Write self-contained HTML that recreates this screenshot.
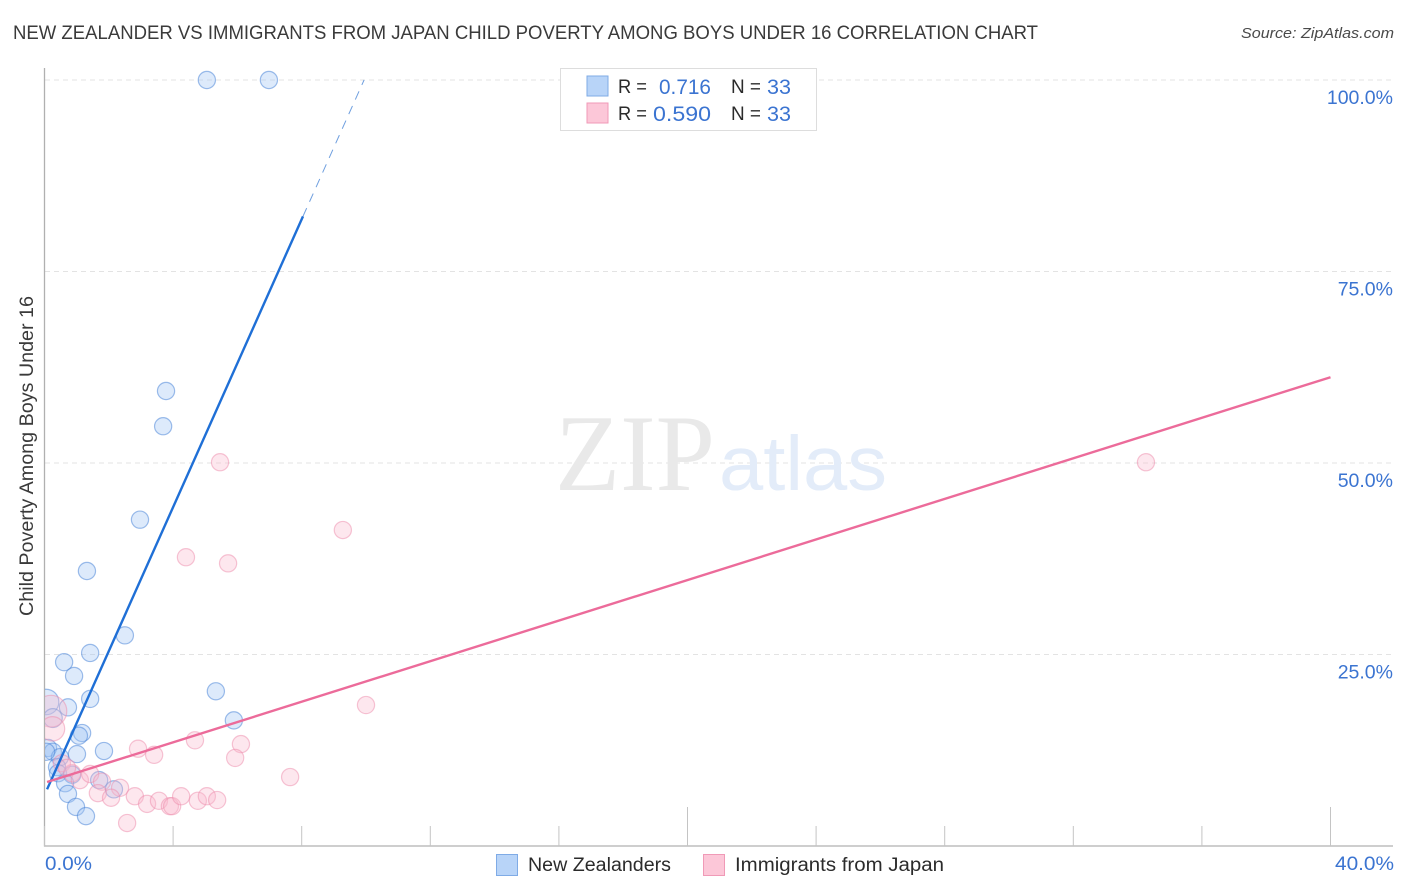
<!DOCTYPE html>
<html lang="en">
<head>
<meta charset="utf-8">
<title>New Zealander vs Immigrants from Japan Child Poverty Among Boys Under 16 Correlation Chart</title>
<style>
html,body{margin:0;padding:0;background:#fff;}
svg{display:block;font-family:"Liberation Sans",sans-serif;}
</style>
</head>
<body>
<svg id="chart" width="1406" height="892" viewBox="0 0 1406 892" xmlns="http://www.w3.org/2000/svg">
  <defs>
    <clipPath id="plot-clip"><rect x="45" y="60" width="1350" height="786"></rect></clipPath>
  </defs>
  <rect x="0" y="0" width="1406" height="892" fill="#ffffff"></rect>

  <text x="13" y="39" font-size="19" fill="#3a3a3a" textLength="1025" lengthAdjust="spacingAndGlyphs">NEW ZEALANDER VS IMMIGRANTS FROM JAPAN CHILD POVERTY AMONG BOYS UNDER 16 CORRELATION CHART</text>
  <text x="1241" y="38" font-size="15" font-style="italic" fill="#4a4a4a" textLength="153" lengthAdjust="spacingAndGlyphs">Source: ZipAtlas.com</text>

  <g id="grid"></g>

  <g>
    <text x="555" y="490" font-family="'Liberation Serif',serif" font-size="109" fill="#e9e9e9" textLength="160" lengthAdjust="spacingAndGlyphs">ZIP</text>
    <text x="719" y="490" font-size="77" fill="#e3ecf9" textLength="168" lengthAdjust="spacingAndGlyphs">atlas</text>
  </g>

  <g id="axes"></g>
  <g id="points-blue" clip-path="url(#plot-clip)"></g>
  <g id="points-pink" clip-path="url(#plot-clip)"></g>
  <g id="trends"></g>
  <g id="y-labels"></g>

  <text transform="translate(33,616) rotate(-90)" x="0" y="0" font-size="19" fill="#3a3a3a" textLength="320" lengthAdjust="spacingAndGlyphs">Child Poverty Among Boys Under 16</text>
  <text x="45" y="870" font-size="19" fill="#3b74d1" textLength="47" lengthAdjust="spacingAndGlyphs">0.0%</text>
  <text x="1335" y="870" font-size="19" fill="#3b74d1" textLength="59" lengthAdjust="spacingAndGlyphs">40.0%</text>

  <g>
    <rect x="560.5" y="68.5" width="256" height="62" fill="#ffffff" stroke="#dddddd" stroke-width="1"></rect>
    <rect x="587" y="76" width="21" height="20" fill="#b8d4f8" stroke="#7fabe6" stroke-width="1"></rect>
    <rect x="587" y="103" width="21" height="20" fill="#fcc7d8" stroke="#f09ab7" stroke-width="1"></rect>
    <text x="618" y="93" font-size="19" fill="#2b2b2b" textLength="29" lengthAdjust="spacingAndGlyphs">R =</text>
    <text x="659" y="94" font-size="21" fill="#3b74d1" textLength="52" lengthAdjust="spacingAndGlyphs">0.716</text>
    <text x="731" y="93" font-size="19" fill="#2b2b2b" textLength="30" lengthAdjust="spacingAndGlyphs">N =</text>
    <text x="767" y="94" font-size="21" fill="#3b74d1" textLength="24" lengthAdjust="spacingAndGlyphs">33</text>
    <text x="618" y="120" font-size="19" fill="#2b2b2b" textLength="29" lengthAdjust="spacingAndGlyphs">R =</text>
    <text x="653" y="121" font-size="21" fill="#3b74d1" textLength="58" lengthAdjust="spacingAndGlyphs">0.590</text>
    <text x="731" y="120" font-size="19" fill="#2b2b2b" textLength="30" lengthAdjust="spacingAndGlyphs">N =</text>
    <text x="767" y="121" font-size="21" fill="#3b74d1" textLength="24" lengthAdjust="spacingAndGlyphs">33</text>
  </g>

  <g>
    <g>
      <rect x="496.5" y="854.5" width="21" height="21" fill="#b8d4f8" stroke="#7fabe6" stroke-width="1"></rect>
      <text x="528" y="871" font-size="19" fill="#2b2b2b" textLength="143" lengthAdjust="spacingAndGlyphs">New Zealanders</text>
    </g>
    <g>
      <rect x="703.5" y="854.5" width="21" height="21" fill="#fcc7d8" stroke="#f09ab7" stroke-width="1"></rect>
      <text x="735" y="871" font-size="19" fill="#2b2b2b" textLength="209" lengthAdjust="spacingAndGlyphs">Immigrants from Japan</text>
    </g>
  </g>
</svg>

<script>
const xTicks = [0, 4, 8, 12, 16, 20, 24, 28, 32, 36, 40];
const xTallTicks = [20, 40];
const yTicks = [25, 50, 75, 100];
const yTickLabels = ["25.0%", "50.0%", "75.0%", "100.0%"];

const blueX = [5.05, 6.98, 3.78, 3.69, 2.97, 1.32, 2.50, 1.42, 0.61, 0.92, 1.42, 0.73, 5.33, 5.89, 0.05, 0.26, 1.17, 1.07, 1.01, 1.85, 0.11, 0.26, 0.48, 0.39, 0.42, 0.86, 0.64, 0.73, 0.98, 1.29, 1.70, 2.16, 0.05];
const blueY = [100, 100, 59.4, 54.8, 42.6, 35.9, 27.5, 25.2, 24.0, 22.2, 19.2, 18.1, 20.2, 16.4, 18.8, 16.7, 14.75, 14.4, 12.0, 12.4, 12.8, 12.3, 11.6, 10.3, 9.5, 9.3, 8.2, 6.8, 5.1, 3.9, 8.6, 7.4, 12.3];
const blueWeight = [1, 1, 1, 1, 1, 1, 1, 1, 1, 1, 1, 1, 1, 1, 2.2, 1.2, 1, 1, 1, 1, 1, 1, 1, 1, 1, 1, 1, 1, 1, 1, 1, 1, 1];

const pinkX = [5.46, 34.26, 9.28, 4.40, 5.71, 10.0, 2.91, 3.41, 4.68, 6.11, 5.93, 7.64, 0.54, 0.86, 1.10, 1.42, 1.79, 1.66, 2.35, 2.07, 2.81, 3.19, 3.56, 3.90, 3.97, 4.25, 4.77, 5.05, 5.37, 2.57, 0.70, 0.20, 0.25];
const pinkY = [50.1, 50.1, 41.25, 37.7, 36.9, 18.4, 12.7, 11.9, 13.8, 13.3, 11.5, 9.0, 10.8, 9.5, 8.6, 9.4, 8.4, 6.9, 7.6, 6.3, 6.5, 5.5, 5.9, 5.2, 5.2, 6.5, 5.9, 6.5, 6.0, 3.0, 10.2, 17.6, 15.3];
const pinkWeight = [1, 1, 1, 1, 1, 1, 1, 1, 1, 1, 1, 1, 1, 1, 1, 1, 1, 1, 1, 1, 1, 1, 1, 1, 1, 1, 1, 1, 1, 1, 1, 3.4, 2];

const blueTrendX = [0.08, 8.04];
const blueTrendY = [7.4, 82.2];
const blueDashX = [8.04, 9.94];
const blueDashY = [82.2, 100];
const pinkTrendX = [0.08, 40];
const pinkTrendY = [8.35, 61.2];

const NS = 'http://www.w3.org/2000/svg';
const xScale = function (v) { return 44.5 + v * (1286 / 40); };
const yScale = function (v) { return 846 - v * (766 / 100); };

function make(tag, parentId, attrs) {
  const el = document.createElementNS(NS, tag);
  Object.keys(attrs).forEach(function (k) { el.setAttribute(k, attrs[k]); });
  document.getElementById(parentId).appendChild(el);
  return el;
}

yTicks.forEach(function (t, i) {
  const line = make('line', 'grid', { x1: 45, x2: 1393, y1: yScale(t), y2: yScale(t), stroke: '#e3e3e3', 'stroke-width': 1, 'stroke-dasharray': '5 4' });
  
  
  const label = make('text', 'y-labels', { x: 1393, y: yScale(t) + 24, 'text-anchor': 'end', 'font-size': 19.5, fill: '#3b74d1' });
  label.textContent = yTickLabels[i];
  
  
});

const yAxisLine = make('line', 'axes', { x1: 44.5, x2: 44.5, y1: 68, y2: 846.5, stroke: '#b0b0b0', 'stroke-width': 1.3 });


const xAxisLine = make('line', 'axes', { x1: 44, x2: 1393, y1: 846, y2: 846, stroke: '#b0b0b0', 'stroke-width': 1.3 });



xTicks.forEach(function (t) {
  const top = xTallTicks.indexOf(t) >= 0 ? 807 : 826;
  const tick = make('line', 'axes', { x1: xScale(t), x2: xScale(t), y1: top, y2: 846, stroke: '#c4c4c4', 'stroke-width': 1 });
  
  
});

blueX.forEach(function (v, i) {
  const c = make('circle', 'points-blue', { cx: xScale(v), cy: yScale(blueY[i]), r: 8.6 * Math.sqrt(blueWeight[i]), fill: 'rgba(160,198,243,0.36)', stroke: 'rgba(70,130,215,0.52)', 'stroke-width': 1.2 });
  
  
});

pinkX.forEach(function (v, i) {
  const c = make('circle', 'points-pink', { cx: xScale(v), cy: yScale(pinkY[i]), r: 8.6 * Math.sqrt(pinkWeight[i]), fill: 'rgba(248,185,205,0.34)', stroke: 'rgba(238,140,172,0.5)', 'stroke-width': 1.2 });
  
  
});

const blueDash = make('line', 'trends', { x1: xScale(blueDashX[0]), y1: yScale(blueDashY[0]), x2: xScale(blueDashX[1]), y2: yScale(blueDashY[1]), stroke: '#6f9fdf', 'stroke-width': 1, 'stroke-dasharray': '9 7' });


const blueLine = make('line', 'trends', { x1: xScale(blueTrendX[0]), y1: yScale(blueTrendY[0]), x2: xScale(blueTrendX[1]), y2: yScale(blueTrendY[1]), stroke: '#1f6fd6', 'stroke-width': 2.4 });


const pinkLine = make('line', 'trends', { x1: xScale(pinkTrendX[0]), y1: yScale(pinkTrendY[0]), x2: xScale(pinkTrendX[1]), y2: yScale(pinkTrendY[1]), stroke: '#ec6b9a', 'stroke-width': 2.4 });


</script>
</body>
</html>
